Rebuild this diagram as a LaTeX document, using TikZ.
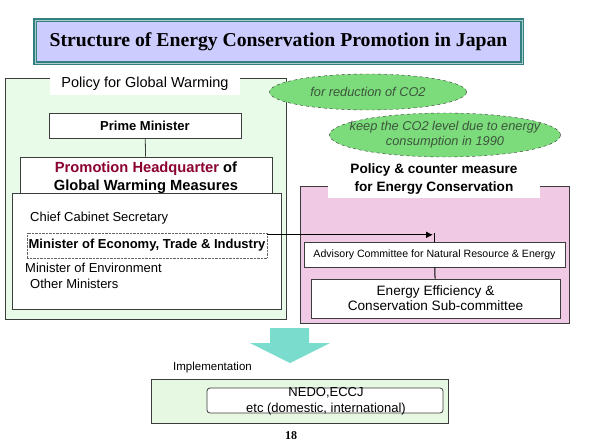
\documentclass[tikz,border=0pt]{standalone}
\usepackage{fontspec}
\setmainfont{Liberation Serif}
\setsansfont{Liberation Sans}
\usetikzlibrary{shapes.geometric,arrows.meta}
\definecolor{titlefill}{RGB}{204,204,255}
\definecolor{titleline}{RGB}{50,128,128}
\definecolor{gwfill}{RGB}{232,250,232}
\definecolor{co2fill}{RGB}{124,220,124}
\definecolor{co2text}{RGB}{60,85,60}
\definecolor{ecfill}{RGB}{240,202,228}
\definecolor{hqred}{RGB}{140,0,50}
\definecolor{implarrow}{RGB}{122,220,204}
\definecolor{implfill}{RGB}{230,248,226}
\definecolor{boxline}{RGB}{60,60,60}

\begin{document}
\begin{tikzpicture}[x=1pt, y=-1pt, font=\sffamily,
    frame/.style={draw=boxline, line width=0.8pt, inner sep=0pt},
    whitebox/.style={frame, fill=white},
    co2goal/.style={ellipse, draw=black!80, dashed, fill=co2fill, inner sep=0pt,
      font=\sffamily\itshape\fontsize{12.8}{15}\selectfont, text=co2text, align=center},
    bodytext/.style={anchor=west, inner sep=0pt, font=\sffamily\fontsize{13}{14}\selectfont}]
  \useasboundingbox (0,0) rectangle (589,442);
  \node [draw=titleline, double=titleline!40, double distance=1pt, line width=1.1pt, fill=titlefill,
    minimum width=487, minimum height=43, inner sep=0pt] (title) at (278.5,41.5)
    {\rmfamily\bfseries\fontsize{19.7}{20}\selectfont Structure of Energy Conservation Promotion in Japan};

  \node [frame, fill=gwfill, minimum width=281, minimum height=241] (gwbox) at (145.5,198.5) {};
  \node [co2goal, minimum width=197, minimum height=36] (reduction) at (368,92) {for reduction of CO2};
  \node [fill=white, minimum width=190, minimum height=22, inner sep=0pt,
    font=\sffamily\fontsize{14.5}{16}\selectfont] (gwlabel) at (145,84) {Policy for Global Warming};
  \node [whitebox, minimum width=192, minimum height=25,
    font=\sffamily\bfseries\fontsize{13}{14}\selectfont] (pm) at (145,125.5) {Prime Minister};
  \node [whitebox, minimum width=252, minimum height=42, align=center,
    font=\sffamily\bfseries\fontsize{14.7}{18}\selectfont] (hq) at (146,178)
    {\textcolor{hqred}{Promotion Headquarter} of\\Global Warming Measures};
  \draw [boxline, line width=0.8pt] (pm) -- (hq);
  \node [whitebox, minimum width=269, minimum height=116] (cabinet) at (146.5,251) {};
  \node [bodytext] (ccs) at (30,218) {Chief Cabinet Secretary};
  \node [draw=black!60, densely dotted, minimum width=240, minimum height=25, inner sep=0pt,
    font=\sffamily\bfseries\fontsize{13}{14}\selectfont] (meti) at (147,245.5)
    {Minister of Economy, Trade \& Industry};
  \node [bodytext] (moe) at (25,268) {Minister of Environment};
  \node [bodytext] (others) at (30,284) {Other Ministers};

  \node [co2goal, inner xsep=-15pt, minimum width=231, minimum height=44] (keep) at (445,135)
    {keep the CO2 level due to energy\\consumption in 1990};

  \node [frame, fill=ecfill, minimum width=269, minimum height=137] (ecbox) at (434.5,254.5) {};
  \node [fill=white, minimum width=212, minimum height=37, inner sep=0pt, align=center,
    font=\sffamily\bfseries\fontsize{13.6}{18}\selectfont] (eclabel) at (434,179)
    {Policy \& counter measure\\for Energy Conservation};
  \node [whitebox, minimum width=261, minimum height=25,
    font=\sffamily\fontsize{10.6}{12}\selectfont] (advisory) at (434.5,254.5)
    {Advisory Committee for Natural Resource \& Energy};
  \node [whitebox, minimum width=249, minimum height=39, align=center,
    font=\sffamily\fontsize{13.6}{15}\selectfont] (eec) at (435.5,298.5)
    {Energy Efficiency \&\\Conservation Sub-committee};
  \draw [line width=1pt] (advisory) -- (eec);
  \coordinate (joint) at ([yshift=-2pt]meti.north east -| advisory.north);
  \draw [line width=1.2pt, -{Latex[length=7pt,width=7pt]}] ([yshift=-2pt]meti.north east) -- ([xshift=-1.5pt]joint);
  \draw [line width=1pt] ([yshift=2pt]joint) -- (advisory.north);

  \fill [implarrow] (270,328) -- (309,328) -- (309,343) -- (330,343) -- (290,363) -- (250,343) -- (270,343) -- cycle;
  \node [anchor=west, inner sep=0pt, font=\sffamily\fontsize{11.5}{12}\selectfont] (impl) at (173,368) {Implementation};
  \node [frame, fill=implfill, minimum width=297, minimum height=44] (implbox) at (299.5,401) {};
  \node [draw=boxline, line width=0.8pt, fill=white, rounded corners=3pt, minimum width=236, minimum height=25] (nedo) at (325,400.5) {};
  \node [inner sep=0pt, align=center, font=\sffamily\fontsize{13}{16}\selectfont] (nedotext) at (326,401)
    {NEDO,ECCJ\\etc (domestic, international)};
  \node [inner sep=0pt, font=\rmfamily\bfseries\fontsize{12}{12}\selectfont] (page) at (291,436) {18};
\end{tikzpicture}
\end{document}
